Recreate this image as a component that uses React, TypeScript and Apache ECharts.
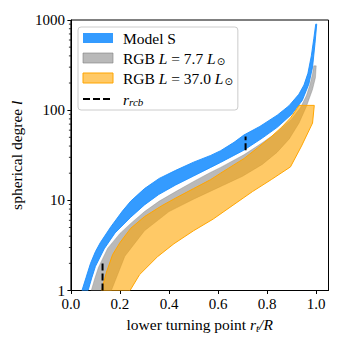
import React, { useEffect, useRef } from "react";
import * as echarts from "echarts";

// ---- data ----
const xTicks = [0, 0.2, 0.4, 0.6, 0.8, 1.0];
const yMinorTicks = [2, 3, 4, 5, 6, 7, 8, 9, 20, 30, 40, 50, 60, 70, 80, 90, 200, 300, 400, 500, 600, 700, 800, 900];

const blueUpper: [number, number][] = [
  [0.045, 1], [0.062, 1.4], [0.08, 2], [0.1, 2.7], [0.12, 3.4], [0.163, 5.1], [0.21, 7.6], [0.244, 9.8],
  [0.3, 13.5], [0.36, 17.5], [0.427, 21.5], [0.5, 26.5], [0.57, 31.5], [0.61, 35.5], [0.665, 44], [0.705, 53],
  [0.77, 66], [0.841, 88], [0.889, 112], [0.929, 150], [0.95, 190], [0.966, 256], [0.98, 400], [0.99, 620], [0.998, 900],
];
const blueLower: [number, number][] = [
  [0.07, 1], [0.085, 1.38], [0.1, 1.85], [0.136, 2.9], [0.18, 4.35], [0.244, 6.5], [0.3, 8.9], [0.358, 11.6],
  [0.427, 14.8], [0.5, 18.6], [0.57, 23.2], [0.61, 26.3], [0.705, 36], [0.78, 49], [0.841, 64.5], [0.9, 90],
  [0.943, 128], [0.97, 195], [0.985, 300], [0.995, 550], [1.002, 900],
];
const grayUpper: [number, number][] = [
  [0.083, 1], [0.097, 1.35], [0.112, 1.8], [0.15, 2.95], [0.2, 4.3], [0.244, 5.55], [0.3, 7.5], [0.36, 9.8],
  [0.427, 12.5], [0.5, 16.2], [0.57, 20.5], [0.61, 23.2], [0.705, 32], [0.78, 43.5], [0.841, 57], [0.9, 80],
  [0.936, 107], [0.96, 145], [0.975, 195], [0.985, 255], [0.99, 310],
];
const grayLower: [number, number][] = [
  [0.165, 1], [0.22, 2.4], [0.3, 4.6], [0.4, 7.5], [0.5, 10.3], [0.6, 13.8], [0.7, 18.5], [0.78, 25],
  [0.84, 34], [0.89, 48], [0.93, 72], [0.96, 110], [0.985, 170], [0.997, 230], [1.0, 310],
];
const orangeUpper: [number, number][] = [
  [0.125, 1], [0.145, 1.6], [0.17, 2.5], [0.2, 3.4], [0.244, 4.9], [0.3, 6.6], [0.37, 8.7], [0.427, 10.6],
  [0.5, 13.5], [0.57, 17], [0.61, 20], [0.705, 29], [0.76, 38], [0.814, 50], [0.86, 65], [0.895, 82],
  [0.915, 98], [0.93, 113],
];
const orangeLower: [number, number][] = [
  [0.241, 1], [0.28, 1.5], [0.353, 2.37], [0.42, 3.3], [0.5, 4.6], [0.58, 6.2], [0.665, 9], [0.74, 12.5],
  [0.817, 17], [0.895, 23.5], [0.94, 40], [0.985, 72], [0.992, 113],
];
const rcbLine1: [number, number][] = [[0.129, 1], [0.129, 2]];
const rcbLine2: [number, number][] = [[0.712, 36], [0.712, 51]];

const names = ["Model S", "RGB L = 7.7 L⊙", "RGB L = 37.0 L⊙", "r_rcb"];

const polygon = (u: [number, number][], l: [number, number][]) => [...u, ...l.slice().reverse()];

function bandSeries(name: string, pts: [number, number][], fill: string, stroke: string) {
  return {
    type: "custom",
    name,
    coordinateSystem: "cartesian2d",
    clip: true,
    silent: true,
    encode: { x: 0, y: 1 },
    itemStyle: { color: fill },
    data: pts,
    renderItem: (params: any, api: any) => {
      if (params.dataIndex !== 0) return null;
      const points = pts.map((p) => api.coord(p));
      return {
        type: "polygon",
        shape: { points },
        style: { fill, stroke, lineWidth: 1 },
      };
    },
  };
}

const FONT = "'Liberation Serif', 'DejaVu Serif', serif";
const FS = 15.5;

export default function App() {
  const ref = useRef<HTMLDivElement>(null);
  useEffect(() => {
    if (!ref.current) return;
    const chart = echarts.init(ref.current, null, { renderer: "svg" });
    const legendFmt = (name: string) => {
      if (name === names[0]) return "{g|}{n|Model S}";
      if (name === names[1]) return "{g|}{n|RGB }{i|L}{n| = 7.7 }{i|L}{s|⊙}";
      if (name === names[2]) return "{g|}{n|RGB }{i|L}{n| = 37.0 }{i|L}{s|⊙}";
      return "{g|}{i|r}{si|rcb}";
    };
    const rcbStyle = {
      type: "line", name: names[3], symbol: "none", silent: true,
      lineStyle: { color: "#000", width: 2, type: [7, 3] },
      itemStyle: { color: "rgba(0,0,0,0)", borderWidth: 0 },
    };
    chart.setOption({
      animation: false,
      grid: {
        left: 70, right: 18.5, top: 20, bottom: 56.5,
        show: true, borderColor: "#000", borderWidth: 1,
      },
      legend: {
        orient: "vertical",
        left: 78, top: 27,
        padding: [3, 5, 3, 4],
        itemWidth: 30, itemHeight: 10, itemGap: 4,
        backgroundColor: "rgba(255,255,255,0.85)",
        borderColor: "#cccccc", borderWidth: 1, borderRadius: 3,
        formatter: legendFmt,
        textStyle: {
          fontFamily: FONT, fontSize: FS, color: "#000", lineHeight: 16,
          rich: {
            g: { width: 5 },
            n: { fontFamily: FONT, fontSize: FS, lineHeight: 16 },
            i: { fontFamily: FONT, fontSize: FS, fontStyle: "italic", lineHeight: 16 },
            s: { fontFamily: "DejaVu Sans", fontSize: 10, lineHeight: 16, verticalAlign: "bottom", padding: [6, 0, 0, 1] },
            si: { fontFamily: FONT, fontSize: 11, fontStyle: "italic", lineHeight: 16, verticalAlign: "bottom", padding: [6, 0, 0, 0] },
          },
        },
        data: [
          { name: names[0], icon: "rect", itemStyle: { color: "rgba(30,144,255,0.9)" } },
          { name: names[1], icon: "rect", itemStyle: { color: "rgba(128,128,128,0.55)", borderColor: "rgba(128,128,128,0.6)", borderWidth: 1 } },
          { name: names[2], icon: "rect", itemStyle: { color: "rgba(255,165,0,0.6)", borderColor: "#ffa500", borderWidth: 1 } },
          { name: names[3] },
        ],
      },
      xAxis: {
        type: "value", min: 0, max: 1.05,
        name: "lower turning point {i|r}{s|t}{i|/R}",
        nameLocation: "middle", nameGap: 21,
        nameTextStyle: {
          fontFamily: FONT, fontSize: FS, color: "#000",
          rich: {
            i: { fontFamily: FONT, fontSize: FS, fontStyle: "italic" },
            s: { fontFamily: FONT, fontSize: 11, fontStyle: "italic", verticalAlign: "bottom", padding: [8, 0, 0, 0] },
          },
        },
        axisLine: { show: true, lineStyle: { color: "#000", width: 1 } },
        axisTick: { show: true, length: 3.5, customValues: xTicks, lineStyle: { color: "#000" } },
        axisLabel: {
          customValues: xTicks, margin: 6,
          fontFamily: FONT, fontSize: 15, color: "#000",
          formatter: (v: number) => v.toFixed(1),
        },
        splitLine: { show: false },
      },
      yAxis: {
        type: "log", logBase: 10, min: 1, max: 1000,
        name: "spherical degree {i|l}",
        nameLocation: "middle", nameGap: 45, nameRotate: 90,
        nameTextStyle: {
          fontFamily: FONT, fontSize: FS, color: "#000",
          rich: { i: { fontFamily: FONT, fontSize: FS, fontStyle: "italic" } },
        },
        axisLine: { show: true, lineStyle: { color: "#000", width: 1 } },
        axisTick: { show: true, length: 3.5, lineStyle: { color: "#000" } },
        axisLabel: {
          margin: 6, fontFamily: FONT, fontSize: 15, color: "#000",
          formatter: (v: number) => String(Math.round(v)),
        },
        splitLine: { show: false },
      },
      series: [
        bandSeries(names[0], polygon(blueUpper, blueLower), "rgba(30,144,255,0.9)", "rgba(30,144,255,0.9)"),
        bandSeries(names[1], polygon(grayUpper, grayLower), "rgba(128,128,128,0.55)", "rgba(128,128,128,0.35)"),
        bandSeries(names[2], polygon(orangeUpper, orangeLower), "rgba(255,165,0,0.6)", "#ffa500"),
        { ...rcbStyle, data: rcbLine1 },
        { ...rcbStyle, data: rcbLine2 },
        {
          type: "custom", name: "minor", coordinateSystem: "cartesian2d", clip: false, silent: true,
          encode: { x: 0, y: 1 },
          data: yMinorTicks.map((v) => [0, v]),
          renderItem: (params: any, api: any) => {
            const p = api.coord([0, api.value(1)]);
            return {
              type: "line",
              shape: { x1: p[0] - 2, y1: p[1], x2: p[0], y2: p[1] },
              style: { stroke: "#000", lineWidth: 0.8 },
            };
          },
        },
      ],
    });
    return () => chart.dispose();
  }, []);
  return <div ref={ref} style={{ width: 347, height: 347, position: "absolute", left: 0, top: 0 }} />;
}
